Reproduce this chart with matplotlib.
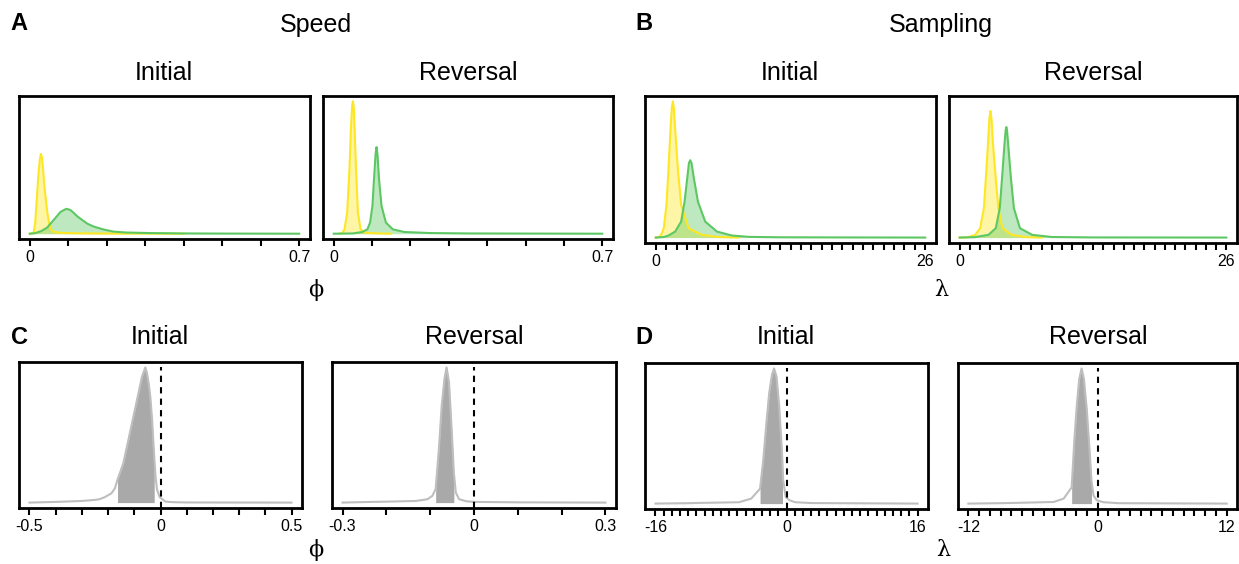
import numpy as np
import matplotlib.pyplot as plt

plt.rcParams['font.family'] = ['Liberation Sans', 'DejaVu Sans']

W, H = 1239, 564

# densities are in relative units (y axis is unlabeled)
# A: speed (phi), yellow / green groups
speed_init_yel_x = [0.0, 0.006, 0.010, 0.014, 0.018, 0.022, 0.026, 0.029, 0.032, 0.036, 0.039,
                    0.042, 0.046, 0.051, 0.056, 0.062, 0.07, 0.09, 0.12, 0.2, 0.4]
speed_init_yel_y = [0.0, 0.003, 0.01, 0.08, 0.25, 0.43, 0.56, 0.603, 0.57, 0.43, 0.33,
                    0.25, 0.15, 0.07, 0.03, 0.015, 0.01, 0.005, 0.003, 0.001, 0.0]
speed_init_grn_x = [0.0, 0.014, 0.03, 0.045, 0.055, 0.067, 0.08, 0.095, 0.105, 0.115, 0.124,
                    0.138, 0.15, 0.165, 0.19, 0.217, 0.25, 0.31, 0.4, 0.5, 0.7]
speed_init_grn_y = [0.0, 0.004, 0.02, 0.046, 0.08, 0.12, 0.165, 0.188, 0.18, 0.155, 0.13,
                    0.1, 0.075, 0.055, 0.033, 0.016, 0.009, 0.005, 0.002, 0.001, 0.0]
speed_rev_yel_x = [0.015, 0.022, 0.028, 0.035, 0.0412, 0.0447, 0.048, 0.050, 0.052, 0.0544,
                   0.0579, 0.063, 0.070, 0.079, 0.1, 0.15]
speed_rev_yel_y = [0.0, 0.005, 0.033, 0.16, 0.5, 0.79, 0.97, 1.0, 0.96, 0.79,
                   0.5, 0.16, 0.033, 0.01, 0.004, 0.0]
speed_rev_grn_x = [0.0, 0.05, 0.0746, 0.0877, 0.0947, 0.1009, 0.105, 0.109, 0.1115, 0.114,
                   0.118, 0.1246, 0.136, 0.154, 0.184, 0.25, 0.35, 0.5, 0.7]
speed_rev_grn_y = [0.0, 0.002, 0.013, 0.033, 0.084, 0.21, 0.413, 0.6, 0.654, 0.6,
                   0.413, 0.21, 0.084, 0.033, 0.013, 0.005, 0.002, 0.001, 0.0]

# B: sampling (lambda)
samp_init_yel_x = [0.0, 0.3, 0.52, 0.77, 1.03, 1.23, 1.42, 1.55, 1.65, 1.75, 1.87,
                   2.13, 2.45, 3.16, 4.45, 6.0, 8.0]
samp_init_yel_y = [0.0, 0.003, 0.02, 0.069, 0.24, 0.51, 0.80, 0.96, 1.005, 0.95, 0.80,
                   0.51, 0.24, 0.069, 0.02, 0.004, 0.0]
samp_init_grn_x = [0.0, 0.8, 1.23, 1.87, 2.45, 2.78, 3.03, 3.2, 3.32, 3.45, 3.68,
                   4.07, 4.77, 5.9, 7.35, 9.0, 12, 18, 26]
samp_init_grn_y = [0.0, 0.004, 0.015, 0.044, 0.118, 0.265, 0.436, 0.55, 0.571, 0.55, 0.436,
                   0.265, 0.118, 0.044, 0.015, 0.005, 0.002, 0.001, 0.0]
samp_rev_yel_x = [0.0, 0.8, 1.52, 2.0, 2.36, 2.55, 2.75, 2.9, 3.0, 3.1, 3.26,
                  3.52, 3.78, 4.16, 5.07, 6.5, 8.0]
samp_rev_yel_y = [0.0, 0.002, 0.02, 0.069, 0.216, 0.436, 0.68, 0.88, 0.934, 0.88, 0.68,
                  0.436, 0.216, 0.069, 0.02, 0.003, 0.0]
samp_rev_grn_x = [0.0, 1.5, 2.81, 3.52, 3.91, 4.13, 4.36, 4.48, 4.55, 4.62, 4.74,
                  5.0, 5.29, 5.88, 7.07, 9.0, 13, 26]
samp_rev_grn_y = [0.0, 0.003, 0.02, 0.069, 0.216, 0.436, 0.68, 0.79, 0.816, 0.79, 0.68,
                  0.436, 0.216, 0.069, 0.02, 0.004, 0.001, 0.0]

# C: phi difference, D: lambda difference (with shaded interval)
phi_init_x = [-0.5, -0.4, -0.3, -0.25, -0.233, -0.213, -0.187, -0.174, -0.164, -0.142, -0.123,
              -0.103, -0.084, -0.071, -0.058, -0.052, -0.045, -0.039, -0.032, -0.024, -0.019,
              -0.013, -0.003, 0.019, 0.05, 0.1, 0.5]
phi_init_y = [0.0, 0.005, 0.012, 0.02, 0.025, 0.04, 0.069, 0.106, 0.17, 0.29, 0.46,
              0.64, 0.81, 0.93, 1.0, 0.96, 0.88, 0.785, 0.61, 0.34, 0.19,
              0.094, 0.04, 0.007, 0.003, 0.001, 0.0]
phi_init_hdi = [-0.164, -0.024]
phi_rev_x = [-0.3, -0.25, -0.2, -0.133, -0.106, -0.095, -0.0875, -0.080, -0.0736, -0.0672,
             -0.0626, -0.057, -0.0506, -0.046, -0.0415, -0.034, -0.018, 0.0, 0.1, 0.3]
phi_rev_y = [0.0, 0.004, 0.007, 0.012, 0.025, 0.05, 0.1, 0.40, 0.72, 0.92,
             1.0, 0.89, 0.52, 0.22, 0.074, 0.025, 0.01, 0.005, 0.002, 0.0]
phi_rev_hdi = [-0.0875, -0.046]
lam_init_x = [-16, -12, -10.68, -5.79, -4.31, -3.23, -2.84, -2.45, -2.11, -1.77, -1.52,
              -1.22, -0.89, -0.59, -0.49, -0.40, -0.10, 0.35, 1.07, 3, 16]
lam_init_y = [0.0, 0.003, 0.005, 0.01, 0.037, 0.11, 0.32, 0.6, 0.82, 0.955, 1.0,
              0.94, 0.72, 0.42, 0.3, 0.17, 0.05, 0.025, 0.01, 0.004, 0.0]
lam_init_hdi = [-3.23, -0.49]
lam_rev_x = [-12, -9, -7.76, -4.07, -3.14, -2.40, -2.15, -1.93, -1.70, -1.48, -1.26,
             -1.00, -0.74, -0.56, -0.37, -0.08, 0.55, 2, 12]
lam_rev_y = [0.0, 0.003, 0.005, 0.012, 0.037, 0.12, 0.47, 0.72, 0.92, 1.0, 0.92,
             0.70, 0.40, 0.17, 0.06, 0.025, 0.01, 0.003, 0.0]
lam_rev_hdi = [-2.40, -0.56]

yellow = '#FDE725'
green = '#5DC863'

fig = plt.figure(figsize=(W / 100, H / 100), dpi=100)


def px_axes(x0, x1, y0, y1):
    return fig.add_axes([x0 / W, 1 - y1 / H, (x1 - x0) / W, (y1 - y0) / H])


def style(ax, lo, hi, step, labels, ymax):
    ticks = np.round(np.arange(lo, hi + step / 2, step), 3)
    pad = (hi - lo) * 0.04
    ax.set_xlim(lo - pad, hi + pad)
    ax.set_ylim(-0.04 * ymax, 1.04 * ymax)
    ax.set_xticks(ticks)
    ax.set_xticklabels([labels.get(round(t, 3), '') for t in ticks], fontsize=11.5)
    ax.set_yticks([])
    ax.tick_params(axis='x', direction='out', length=5, width=1.5, pad=3)
    for s in ax.spines.values():
        s.set_linewidth(2)


def pair_panel(ax, curves):
    for x, y, c in curves:
        ax.fill_between(x, 0, y, color=c, alpha=0.4, lw=0)
        ax.plot(x, y, color=c, lw=1.5)


def diff_panel(ax, x, y, hdi):
    x = np.array(x)
    y = np.array(y)
    m = (x >= hdi[0]) & (x <= hdi[1])
    ax.fill_between(x[m], 0, y[m], color='#A9A9A9', lw=0)
    ax.plot(x, y, color='#BEBEBE', lw=1.5)
    ax.plot([0, 0], [-0.04 * max(y), max(y)], color='black', lw=1.5, ls=(0, (3, 2.5)))


# row 1
ymax_a = max(max(speed_init_yel_y), max(speed_rev_yel_y))
ax = px_axes(19, 310, 96, 239)
pair_panel(ax, [(speed_init_yel_x, speed_init_yel_y, yellow), (speed_init_grn_x, speed_init_grn_y, green)])
style(ax, 0, 0.7, 0.1, {0: '0', 0.7: '0.7'}, ymax_a)
ax = px_axes(323, 613, 96, 239)
pair_panel(ax, [(speed_rev_yel_x, speed_rev_yel_y, yellow), (speed_rev_grn_x, speed_rev_grn_y, green)])
style(ax, 0, 0.7, 0.1, {0: '0', 0.7: '0.7'}, ymax_a)

ymax_b = max(max(samp_init_yel_y), max(samp_rev_yel_y))
ax = px_axes(645, 936, 96, 243)
pair_panel(ax, [(samp_init_yel_x, samp_init_yel_y, yellow), (samp_init_grn_x, samp_init_grn_y, green)])
style(ax, 0, 26, 1, {0: '0', 26: '26'}, ymax_b)
ax = px_axes(949, 1237, 96, 243)
pair_panel(ax, [(samp_rev_yel_x, samp_rev_yel_y, yellow), (samp_rev_grn_x, samp_rev_grn_y, green)])
style(ax, 0, 26, 1, {0: '0', 26: '26'}, ymax_b)

# row 2
ax = px_axes(19, 302, 362, 508)
diff_panel(ax, phi_init_x, phi_init_y, phi_init_hdi)
style(ax, -0.5, 0.5, 0.1, {-0.5: '-0.5', 0: '0', 0.5: '0.5'}, max(phi_init_y))
ax = px_axes(332, 616, 362, 508)
diff_panel(ax, phi_rev_x, phi_rev_y, phi_rev_hdi)
style(ax, -0.3, 0.3, 0.1, {-0.3: '-0.3', 0: '0', 0.3: '0.3'}, max(phi_rev_y))
ax = px_axes(645, 928, 363, 509)
diff_panel(ax, lam_init_x, lam_init_y, lam_init_hdi)
style(ax, -16, 16, 1, {-16: '-16', 0: '0', 16: '16'}, max(lam_init_y))
ax = px_axes(958, 1237, 363, 509)
diff_panel(ax, lam_rev_x, lam_rev_y, lam_rev_hdi)
style(ax, -12, 12, 1, {-12: '-12', 0: '0', 12: '12'}, max(lam_rev_y))


def ftext(x, y, s, **kw):
    fig.text(x / W, 1 - y / H, s, ha='center', va='center', **kw)


ftext(19, 23, 'A', fontsize=17, fontweight='bold')
ftext(644, 23, 'B', fontsize=17, fontweight='bold')
ftext(19, 337, 'C', fontsize=17, fontweight='bold')
ftext(644, 337, 'D', fontsize=17, fontweight='bold')
ftext(316, 25, 'Speed', fontsize=18)
ftext(941, 25, 'Sampling', fontsize=18)
for cx, lab in [(164, 'Initial'), (468, 'Reversal'), (790, 'Initial'), (1093, 'Reversal')]:
    ftext(cx, 73, lab, fontsize=18)
for cx, lab in [(160, 'Initial'), (474, 'Reversal'), (786, 'Initial'), (1098, 'Reversal')]:
    ftext(cx, 337, lab, fontsize=18)
ftext(316, 290, 'ϕ', fontsize=16, family=['DejaVu Serif'])
ftext(941, 290, 'λ', fontsize=16, family=['DejaVu Serif'])
ftext(316, 550, 'ϕ', fontsize=16, family=['DejaVu Serif'])
ftext(943, 550, 'λ', fontsize=16, family=['DejaVu Serif'])

fig.savefig('out.png', dpi=100)
